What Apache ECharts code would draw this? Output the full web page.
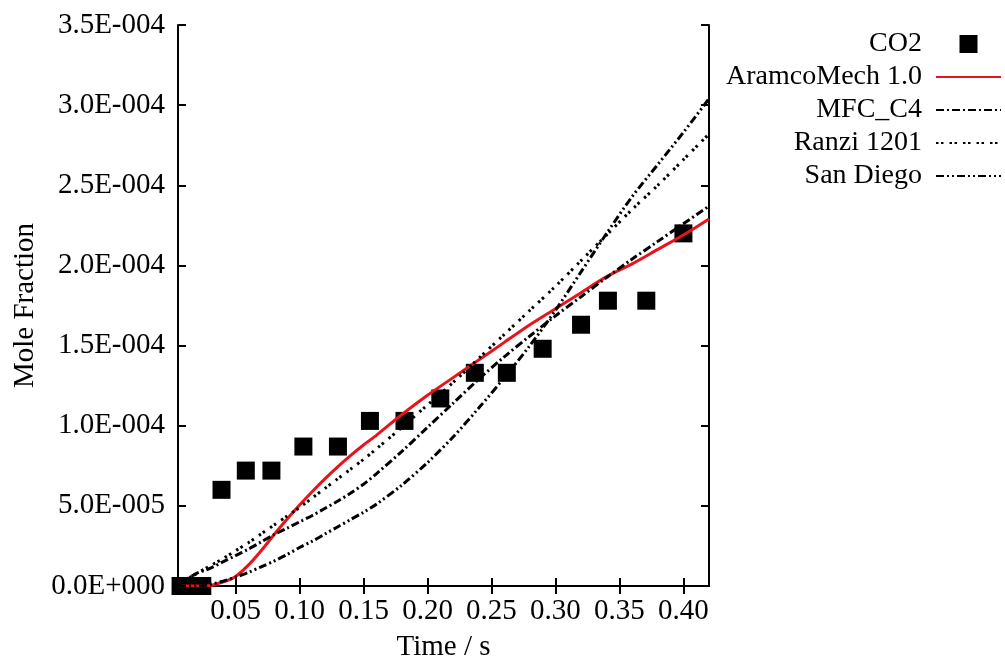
<!DOCTYPE html>
<html><head><meta charset="utf-8">
<script src="https://cdn.jsdelivr.net/npm/echarts@6/dist/echarts.min.js"></script>
<style>html,body{margin:0;padding:0;background:#fff;overflow:hidden}#c{width:1005px;height:667px}</style>
</head><body><div id="c"></div><script>
// Values. Mole fractions are stored in units of 1E-4.
const timeTicks = [0.05, 0.10, 0.15, 0.20, 0.25, 0.30, 0.35, 0.40];
const co2Time  = [0.007, 0.016, 0.024, 0.039, 0.058, 0.078, 0.103, 0.130, 0.155, 0.182, 0.210, 0.237, 0.262, 0.290, 0.320, 0.341, 0.371, 0.400];
const co2Value = [0, 0, 0, 0.60, 0.72, 0.72, 0.87, 0.87, 1.03, 1.03, 1.17, 1.33, 1.33, 1.48, 1.63, 1.78, 1.78, 2.20];
const modelTime = [0.005, 0.02, 0.03, 0.04, 0.05, 0.06, 0.07, 0.08, 0.09, 0.10, 0.11, 0.12, 0.13, 0.14, 0.15, 0.16, 0.18, 0.20, 0.22, 0.24, 0.26, 0.28, 0.30, 0.32, 0.34, 0.36, 0.38, 0.40, 0.42];
const aramco   = [0, 0, 0.003, 0.025, 0.06, 0.13, 0.22, 0.32, 0.415, 0.505, 0.59, 0.67, 0.745, 0.815, 0.88, 0.94, 1.07, 1.19, 1.30, 1.41, 1.52, 1.63, 1.73, 1.83, 1.93, 2.01, 2.10, 2.19, 2.29];
const mfcC4    = [0.01, 0.08, 0.11, 0.15, 0.19, 0.23, 0.275, 0.32, 0.36, 0.40, 0.44, 0.485, 0.53, 0.58, 0.635, 0.70, 0.84, 0.99, 1.14, 1.29, 1.43, 1.56, 1.685, 1.805, 1.925, 2.04, 2.15, 2.26, 2.37];
const ranzi    = [0.01, 0.08, 0.125, 0.17, 0.22, 0.27, 0.325, 0.38, 0.435, 0.49, 0.55, 0.61, 0.67, 0.73, 0.79, 0.855, 0.99, 1.13, 1.27, 1.42, 1.57, 1.72, 1.87, 2.03, 2.19, 2.35, 2.50, 2.66, 2.82];
const sanDiego = [0, 0, 0.01, 0.03, 0.055, 0.085, 0.12, 0.155, 0.195, 0.24, 0.28, 0.325, 0.37, 0.415, 0.46, 0.51, 0.63, 0.77, 0.93, 1.11, 1.30, 1.50, 1.72, 1.96, 2.20, 2.43, 2.63, 2.83, 3.04];
const UNIT = 1e-4;

const FONT = 'Liberation Serif';
function pairs(xs, ys) { return xs.map((x, i) => [x, ys[i] * UNIT]); }
function sci(v) {
  if (Math.abs(v) < 1e-12) return '0.0E+000';
  let e = Math.floor(Math.log10(Math.abs(v)) + 1e-9);
  let m = v / Math.pow(10, e);
  let ms = m.toFixed(1);
  if (ms === '10.0') { e += 1; ms = '1.0'; }
  const s = e < 0 ? '-' : '+';
  return ms + 'E' + s + String(Math.abs(e)).padStart(3, '0');
}

const axisLine = { show: true, lineStyle: { color: '#000', width: 2 } };
const tick = { show: true, inside: true, length: 8, lineStyle: { color: '#000', width: 2 } };
const xCommon = { type: 'value', min: 0.005, max: 0.42, splitLine: { show: false }, axisLine };
const yCommon = { type: 'value', min: 0, max: 3.5e-4, interval: 0.5e-4, splitLine: { show: false }, axisLine };
const noSym = { opacity: 0 };
const LW = 3;

const chart = echarts.init(document.getElementById('c'), null, { renderer: 'canvas', width: 1005, height: 667 });
chart.setOption({
  animation: false,
  backgroundColor: '#fff',
  grid: { left: 178, right: 296, top: 25, bottom: 75, containLabel: false },
  xAxis: [
    Object.assign({}, xCommon, {
      position: 'bottom',
      name: 'Time / s', nameLocation: 'middle', nameGap: 47,
      nameTextStyle: { fontFamily: FONT, fontSize: 29, color: '#000' },
      axisTick: Object.assign({}, tick, { customValues: timeTicks }),
      axisLabel: { customValues: timeTicks, fontFamily: FONT, fontSize: 29, color: '#000', margin: 11,
                   formatter: v => v.toFixed(2) }
    }),
    Object.assign({}, xCommon, {
      position: 'top',
      axisTick: Object.assign({}, tick, { customValues: timeTicks }),
      axisLabel: { show: false }
    })
  ],
  yAxis: [
    Object.assign({}, yCommon, {
      position: 'left',
      name: 'Mole Fraction', nameLocation: 'middle', nameGap: 137,
      nameTextStyle: { fontFamily: FONT, fontSize: 29, color: '#000' },
      axisTick: tick,
      axisLabel: { fontFamily: FONT, fontSize: 29, color: '#000', margin: 13, formatter: sci }
    }),
    Object.assign({}, yCommon, {
      position: 'right',
      axisTick: tick,
      axisLabel: { show: false }
    })
  ],
  legend: {
    orient: 'vertical', align: 'right', right: 3, top: 30, padding: 0,
    itemWidth: 65, itemHeight: 18, itemGap: 5,
    selectedMode: false,
    textStyle: { fontFamily: FONT, fontSize: 28, color: '#000', padding: [0, 9, 0, 0] },
    data: [
      { name: 'CO2', icon: 'path://M0,0L10,0L10,10L0,10Z', itemStyle: { color: '#000', opacity: 1 } },
      { name: 'AramcoMech 1.0', itemStyle: noSym },
      { name: 'MFC_C4', itemStyle: noSym },
      { name: 'Ranzi 1201', itemStyle: noSym },
      { name: 'San Diego', itemStyle: noSym }
    ]
  },
  series: [
    { name: 'CO2', type: 'scatter', symbol: 'rect', symbolSize: 18, clip: false,
      itemStyle: { color: '#000', opacity: 1 }, data: pairs(co2Time, co2Value), z: 2 },
    { name: 'AramcoMech 1.0', type: 'line', smooth: 0.3, symbol: 'none', showSymbol: false,
      color: '#e8141b', lineStyle: { color: '#e8141b', width: LW }, data: pairs(modelTime, aramco), z: 3 },
    { name: 'MFC_C4', type: 'line', smooth: 0.3, symbol: 'none', showSymbol: false,
      color: '#000', lineStyle: { color: '#000', width: LW, type: [8, 3, 2, 3] }, data: pairs(modelTime, mfcC4), z: 3 },
    { name: 'Ranzi 1201', type: 'line', smooth: 0.3, symbol: 'none', showSymbol: false,
      color: '#000', lineStyle: { color: '#000', width: LW, type: [2.5, 2.5, 2.5, 6] }, data: pairs(modelTime, ranzi), z: 3 },
    { name: 'San Diego', type: 'line', smooth: 0.3, symbol: 'none', showSymbol: false,
      color: '#000', lineStyle: { color: '#000', width: LW, type: [8, 3, 2, 3, 2, 3] }, data: pairs(modelTime, sanDiego), z: 3 }
  ]
});
</script></body></html>
